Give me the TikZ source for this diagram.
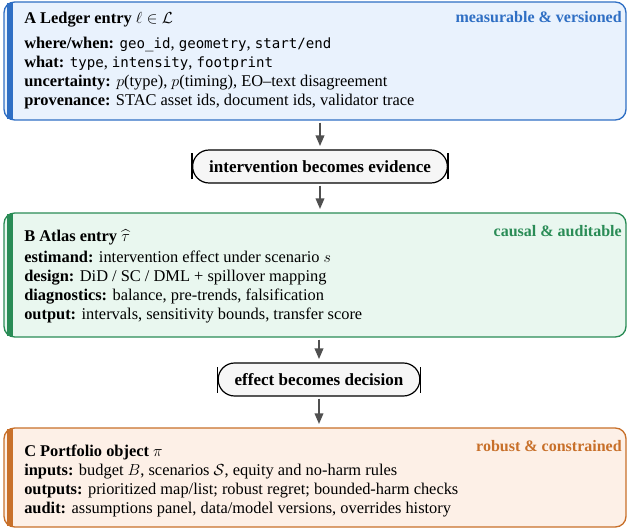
\documentclass[tikz,border=0pt]{standalone}
\usepackage{fontspec}
\setmainfont{Liberation Serif}
\setmonofont{DejaVu Sans Mono}[Scale=0.86]
\usepackage{amsmath}
\usepackage{amssymb}
\usetikzlibrary{shapes.misc, arrows.meta}
\definecolor{ledgerblue}{HTML}{2F6FC4}
\definecolor{ledgerfill}{HTML}{E9F2FD}
\definecolor{atlasgreen}{HTML}{2A8C56}
\definecolor{atlasfill}{HTML}{E9F7EF}
\definecolor{portorange}{HTML}{C8702A}
\definecolor{portfill}{HTML}{FDF0E7}
\definecolor{flowgray}{HTML}{505050}

\begin{document}
\begin{tikzpicture}[x=0.75pt, y=-0.75pt,
  every node/.style={font=\fontsize{12.3}{14.25}\selectfont},
  panel/.style={draw, rounded corners=8pt, line width=1pt, minimum width=466.5pt, inner sep=0pt},
  pill/.style={rounded rectangle, draw=black, line width=0.9pt,
    fill=gray!7, font=\fontsize{12.8}{14}\selectfont\bfseries, minimum height=24.75pt, inner xsep=11.5pt},
  flow/.style={-{Triangle[length=8pt,width=6.5pt]}, draw=flowgray, line width=1.2pt,
    shorten <=1.5pt, shorten >=2.5pt},
  title/.style={anchor=base west, inner sep=0pt, font=\fontsize{12.3}{14}\selectfont\bfseries},
  tag/.style={anchor=base east, inner sep=0pt, font=\fontsize{12}{14}\selectfont\bfseries},
  entry/.style={anchor=north west, align=left, inner sep=0pt}]
  \useasboundingbox (0,0) rectangle (628,531);

  % A: ledger
  \node[panel, draw=ledgerblue, fill=ledgerfill, minimum height=88.5pt] (ledger) at (315,61) {};
  \fill[ledgerblue] ([xshift=2.5pt, yshift=-1.5pt]ledger.north west) rectangle ([xshift=7pt, yshift=1.5pt]ledger.south west);
  \node[title] (ledgertitle) at (24,24) {A Ledger entry $\ell \in \mathcal{L}$};
  \node[tag, text=ledgerblue] (ledgertag) at (622,23) {measurable \& versioned};
  \node[entry] (ledgerbody) at (24,37) {%
    \textbf{where/when:} \texttt{geo\_id}, \texttt{geometry}, \texttt{start/end}\\
    \textbf{what:} \texttt{type}, \texttt{intensity}, \texttt{footprint}\\
    \textbf{uncertainty:} $p$(type), $p$(timing), EO--text disagreement\\
    \textbf{provenance:} STAC asset ids, document ids, validator trace};

  % bridge 1
  \node[pill] (evidence) at (320,166.5) {intervention becomes evidence};
  \draw[line width=1.1pt] ([yshift=-9.75pt]evidence.west) -- ([yshift=9.75pt]evidence.west);
  \draw[line width=1.1pt] ([yshift=-9.75pt]evidence.east) -- ([yshift=9.75pt]evidence.east);

  % B: atlas
  \node[panel, draw=atlasgreen, fill=atlasfill, minimum height=93pt] (atlas) at (315,275) {};
  \fill[atlasgreen] ([xshift=2.5pt, yshift=-1.5pt]atlas.north west) rectangle ([xshift=7pt, yshift=1.5pt]atlas.south west);
  \node[title] (atlastitle) at (24,241) {B Atlas entry $\widehat{\tau}$};
  \node[tag, text=atlasgreen] (atlastag) at (622,236) {causal \& auditable};
  \node[entry] (atlasbody) at (24,251) {%
    \textbf{estimand:} intervention effect under scenario $s$\\
    \textbf{design:} DiD / SC / DML + spillover mapping\\
    \textbf{diagnostics:} balance, pre-trends, falsification\\
    \textbf{output:} intervals, sensitivity bounds, transfer score};

  % bridge 2
  \node[pill] (decision) at (319,379.5) {effect becomes decision};
  \draw[line width=1.1pt] ([yshift=-9.75pt]decision.west) -- ([yshift=9.75pt]decision.west);
  \draw[line width=1.1pt] ([yshift=-9.75pt]decision.east) -- ([yshift=9.75pt]decision.east);

  % C: portfolio
  \node[panel, draw=portorange, fill=portfill, minimum height=74.25pt] (portfolio) at (315,477.5) {};
  \fill[portorange] ([xshift=2.5pt, yshift=-1.5pt]portfolio.north west) rectangle ([xshift=7pt, yshift=1.5pt]portfolio.south west);
  \node[title] (porttitle) at (24,456) {C Portfolio object $\pi$};
  \node[tag, text=portorange] (porttag) at (622,451) {robust \& constrained};
  \node[entry] (portbody) at (24,464) {%
    \textbf{inputs:} budget $B$, scenarios $\mathcal{S}$, equity and no-harm rules\\
    \textbf{outputs:} prioritized map/list; robust regret; bounded-harm checks\\
    \textbf{audit:} assumptions panel, data/model versions, overrides history};

  % flow
  \draw[flow] (ledger.south -| evidence) -- (evidence.north);
  \draw[flow] (evidence.south) -- (atlas.north -| evidence);
  \draw[flow] (atlas.south -| decision) -- (decision.north);
  \draw[flow] (decision.south) -- (portfolio.north -| decision);
\end{tikzpicture}
\end{document}
